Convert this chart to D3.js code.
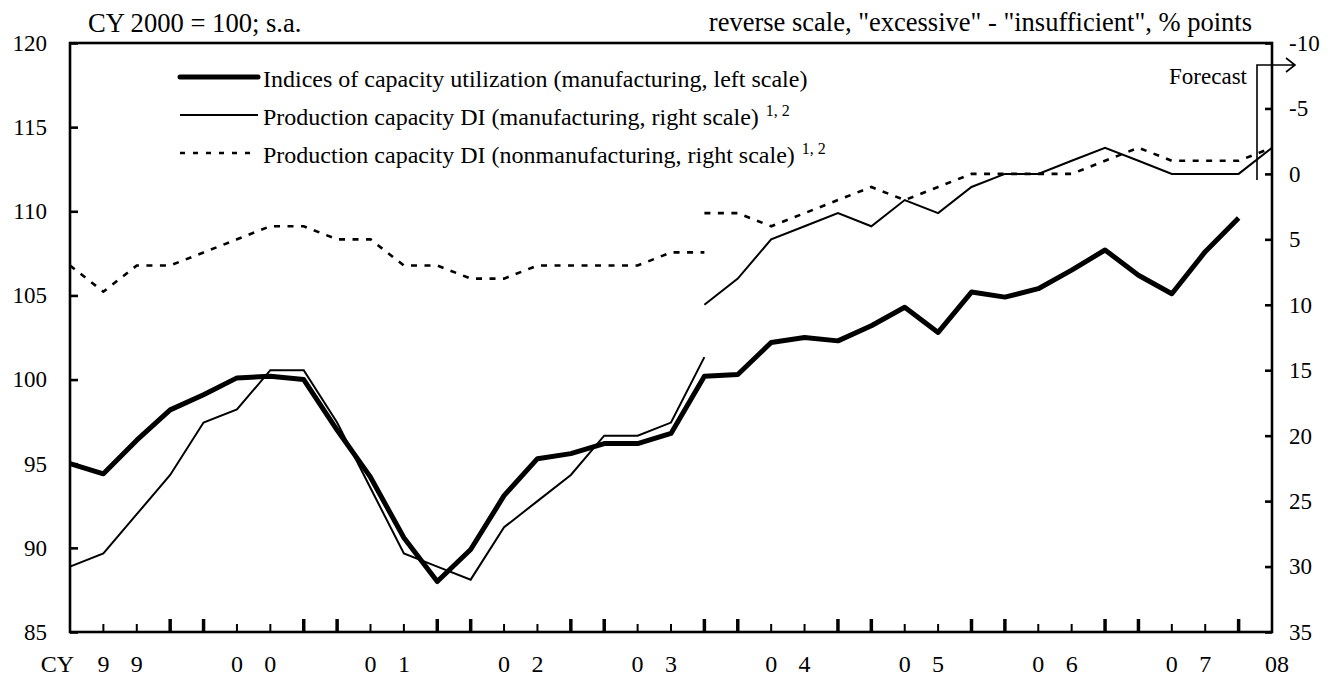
<!DOCTYPE html>
<html>
<head>
<meta charset="utf-8">
<script src="https://cdn.jsdelivr.net/npm/d3@7"></script>
<style>
  body { margin: 0; background: #fff; }
  svg text { font-family: "Liberation Serif", "Times New Roman", serif; fill: #000; }
</style>
</head>
<body>
<svg id="chart" width="1331" height="683"></svg>
<script>
// quarterly, CY1999/Q1 .. ; index = quarter number
const capUtil = [95.0, 94.4, 96.4, 98.2, 99.1, 100.1, 100.2, 100.0, 97.0, 94.2, 90.6, 88.0,
    89.9, 93.1, 95.3, 95.6, 96.2, 96.2, 96.8, 100.2, 100.3, 102.2, 102.5, 102.3,
    103.2, 104.3, 102.8, 105.2, 104.9, 105.4, 106.5, 107.7, 106.2, 105.1, 107.6, 109.6];
// Tankan DI, old basis (up to 2004/Q1) and new basis (from 2004/Q1, last one = forecast)
const mfgOld = [30, 29, 26, 23, 19, 18, 15, 15, 19, 24, 29, 30, 31, 27, 25, 23, 20, 20, 19, 14];
const mfgNew = [10, 8, 5, 4, 3, 4, 2, 3, 1, 0, 0, -1, -2, -1, 0, 0, 0, -2];
const nonmfgOld = [7, 9, 7, 7, 6, 5, 4, 4, 5, 5, 7, 7, 8, 8, 7, 7, 7, 7, 6, 6];
const nonmfgNew = [3, 3, 4, 3, 2, 1, 2, 1, 0, 0, 0, 0, -1, -2, -1, -1, -1, -2];
const newStart = 19;
const years = ["99", "00", "01", "02", "03", "04", "05", "06", "07"];
const lastYear = "08";
const leftTicks = [85, 90, 95, 100, 105, 110, 115, 120];
const rightTicks = [-10, -5, 0, 5, 10, 15, 20, 25, 30, 35];
const legendLabels = [
    "Indices of capacity utilization (manufacturing, left scale)",
    "Production capacity DI (manufacturing, right scale)",
    "Production capacity DI (nonmanufacturing, right scale)"
];

const svg = d3.select("#chart");
const pL = 70, pR = 1272, pT = 43, pB = 632;
const nQ = 36;

const x = d3.scaleLinear().domain([0, nQ]).range([pL, pR]);
const yL = d3.scaleLinear().domain([85, 120]).range([pB, pT]);
const yR = d3.scaleLinear().domain([35, -10]).range([pB, pT]);

const dash = "6,7.5";

// series
const line = (ys, off) => d3.line()
    .x((d, i) => x(i + off))
    .y(d => ys(d));

const g = svg.append("g");
g.append("path").datum(nonmfgOld).attr("d", line(yR, 0))
    .attr("fill", "none").attr("stroke", "#000").attr("stroke-width", 2.6).attr("stroke-dasharray", dash);
g.append("path").datum(nonmfgNew).attr("d", line(yR, newStart))
    .attr("fill", "none").attr("stroke", "#000").attr("stroke-width", 2.6).attr("stroke-dasharray", dash);
g.append("path").datum(mfgOld).attr("d", line(yR, 0))
    .attr("fill", "none").attr("stroke", "#000").attr("stroke-width", 2);
g.append("path").datum(mfgNew).attr("d", line(yR, newStart))
    .attr("fill", "none").attr("stroke", "#000").attr("stroke-width", 2);
g.append("path").datum(capUtil).attr("d", line(yL, 0))
    .attr("fill", "none").attr("stroke", "#000").attr("stroke-width", 5).attr("stroke-linejoin", "round");

// frame
svg.append("rect").attr("x", pL).attr("y", pT)
    .attr("width", pR - pL).attr("height", pB - pT)
    .attr("fill", "none").attr("stroke", "#000").attr("stroke-width", 2.6);

// left axis
const axL = svg.append("g").attr("transform", `translate(${pL},0)`)
    .call(d3.axisLeft(yL).tickValues(leftTicks).tickSize(-8).tickPadding(23).tickFormat(d => String(d)));
axL.select(".domain").remove();
axL.selectAll("line").attr("stroke-width", 2.6);
axL.selectAll("text").attr("font-size", 23).attr("font-family", "Liberation Serif");

// right axis
const axR = svg.append("g").attr("transform", `translate(${pR},0)`)
    .call(d3.axisRight(yR).tickValues(rightTicks).tickSize(-7).tickPadding(17).tickFormat(d => String(d)));
axR.select(".domain").remove();
axR.selectAll("line").attr("stroke-width", 2.6);
axR.selectAll("text").attr("font-size", 23).attr("font-family", "Liberation Serif");

// bottom ticks: quarters, bigger pair marks
for (let i = 1; i < nQ; i++) {
    const major = (i % 4 === 3 || i % 4 === 0);
    svg.append("line")
        .attr("x1", x(i)).attr("x2", x(i))
        .attr("y1", pB).attr("y2", pB - (major ? 13 : 8))
        .attr("stroke", "#000").attr("stroke-width", major ? 3.5 : 2);
}

// year labels
const xl = svg.append("g").attr("font-size", 24);
xl.append("text").attr("x", 74).attr("y", 672).attr("text-anchor", "end").text("CY");
years.forEach((yy, k) => {
    [0, 1].forEach(j => {
        xl.append("text")
            .attr("x", x(4 * k + 1 + j)).attr("y", 672)
            .attr("text-anchor", "middle").text(yy[j]);
    });
});
xl.append("text").attr("x", x(nQ) + 5).attr("y", 672).attr("text-anchor", "middle").text(lastYear);

// titles
svg.append("text").attr("x", 88).attr("y", 32).attr("font-size", 26.6).text("CY 2000 = 100; s.a.");
svg.append("text").attr("x", 1252).attr("y", 31).attr("font-size", 26.5).attr("text-anchor", "end")
    .text("reverse scale, \"excessive\" - \"insufficient\", % points");

// legend
const lg = svg.append("g");
const rowY = [77, 115, 153];
const styles = [
    { w: 5, dash: null },
    { w: 2, dash: null },
    { w: 2.6, dash: "5,8" }
];
legendLabels.forEach((lab, i) => {
    lg.append("line").attr("x1", 180).attr("x2", 258).attr("y1", rowY[i]).attr("y2", rowY[i])
        .attr("stroke", "#000").attr("stroke-width", styles[i].w)
        .attr("stroke-dasharray", styles[i].dash)
        .attr("stroke-linecap", i === 0 ? "round" : "butt");
    const t = lg.append("text").attr("x", 263).attr("y", rowY[i] + 10).attr("font-size", 24).text(lab);
    if (i > 0) {
        t.append("tspan").attr("dx", 7).attr("dy", -9).attr("font-size", 16).text("1, 2");
    }
});

// forecast marker
const fx = 1257, fy = 65;
svg.append("path")
    .attr("d", `M${fx},180 V${fy} H1295 M1286,${fy - 7} L1295,${fy} L1286,${fy + 7}`)
    .attr("fill", "none").attr("stroke", "#000").attr("stroke-width", 1.6);
svg.append("text").attr("x", 1247).attr("y", 84).attr("font-size", 23).attr("text-anchor", "end").text("Forecast");
</script>
</body>
</html>
